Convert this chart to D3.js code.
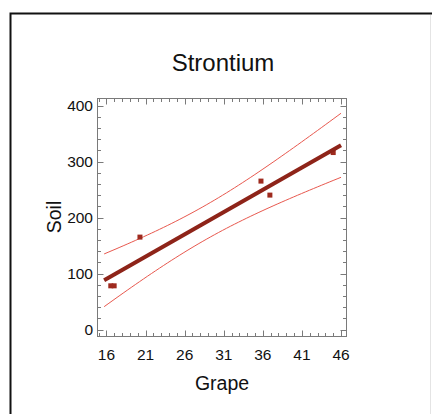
<!DOCTYPE html>
<html>
<head>
<meta charset="utf-8">
<script src="https://cdn.jsdelivr.net/npm/d3@7"></script>
<style>
  html, body { margin: 0; padding: 0; background: #fff; }
  svg { display: block; }
  text { font-family: "Liberation Sans", Arial, sans-serif; }
</style>
</head>
<body>
<svg id="chart" width="432" height="414"></svg>
<script>
// ---- data ----
const title = "Strontium";
const xLabel = "Grape";
const yLabel = "Soil";
const grape = [16.55, 16.98, 20.28, 35.76, 36.9, 45.0];
const soil  = [78, 78, 165, 265, 240, 316];
const xTicks = [16, 21, 26, 31, 36, 41, 46];
const yTicks = [0, 100, 200, 300, 400];
const fitRange = [15.7, 46.0];
const tValue = 2.776; // t(0.975, n-2 = 4)

// ---- layout ----
const svg = d3.select("#chart");
const plot = { left: 97.5, top: 98.5, right: 346.5, bottom: 336.5 };

svg.append("rect").attr("x", 10.5).attr("y", 13.5)
  .attr("width", 424).attr("height", 410)
  .attr("fill", "#fff").attr("stroke", "#111").attr("stroke-width", 2);
svg.append("line").attr("x1", 430.5).attr("x2", 430.5).attr("y1", 15).attr("y2", 414)
  .attr("stroke", "#e4e4e4").attr("stroke-width", 1);

const x = d3.scaleLinear().domain([14.85, 46.7]).range([plot.left, plot.right]);
const y = d3.scaleLinear().domain([-12.5, 412.5]).range([plot.bottom, plot.top]);

// ---- regression + confidence band ----
const n = grape.length;
const mx = d3.mean(grape), my = d3.mean(soil);
const sxx = d3.sum(grape, v => (v - mx) ** 2);
const sxy = d3.sum(grape.map((v, i) => (v - mx) * (soil[i] - my)));
const b = sxy / sxx, a = my - b * mx;
const sse = d3.sum(grape.map((v, i) => (soil[i] - (a + b * v)) ** 2));
const s = Math.sqrt(sse / (n - 2));
const band = d3.range(0, 61).map(i => {
  const xv = fitRange[0] + (fitRange[1] - fitRange[0]) * i / 60;
  const fit = a + b * xv;
  const h = tValue * s * Math.sqrt(1 / n + (xv - mx) ** 2 / sxx);
  return { x: xv, fit, lo: fit - h, hi: fit + h };
});

// ---- frame & ticks ----
const frameColor = "#7a7a7a";
const g = svg.append("g");
g.append("rect").attr("x", plot.left).attr("y", plot.top)
  .attr("width", plot.right - plot.left).attr("height", plot.bottom - plot.top)
  .attr("fill", "none").attr("stroke", frameColor).attr("stroke-width", 1);

const xMinor = d3.range(15, 47, 1);
const yMinor = d3.range(0, 401, 20);
function tickLen(isMajor) { return isMajor ? 6 : 3.5; }

xMinor.forEach(v => {
  const major = xTicks.includes(v);
  const px = Math.round(x(v)) + 0.5;
  const L = tickLen(major);
  g.append("line").attr("x1", px).attr("x2", px).attr("y1", plot.bottom).attr("y2", plot.bottom - L)
    .attr("stroke", frameColor);
  g.append("line").attr("x1", px).attr("x2", px).attr("y1", plot.top).attr("y2", plot.top + L)
    .attr("stroke", frameColor);
});
yMinor.forEach(v => {
  const major = yTicks.includes(v);
  const py = Math.round(y(v)) + 0.5;
  const L = tickLen(major);
  g.append("line").attr("x1", plot.left).attr("x2", plot.left + L).attr("y1", py).attr("y2", py)
    .attr("stroke", frameColor);
  g.append("line").attr("x1", plot.right).attr("x2", plot.right - L).attr("y1", py).attr("y2", py)
    .attr("stroke", frameColor);
});

// tick labels
g.selectAll("text.xt").data(xTicks).enter().append("text")
  .attr("x", d => x(d)).attr("y", 359.5)
  .attr("text-anchor", "middle").attr("font-size", 15.5).attr("fill", "#111")
  .text(d => d);
g.selectAll("text.yt").data(yTicks).enter().append("text")
  .attr("x", 93).attr("y", d => y(d)).attr("dy", "0.36em")
  .attr("text-anchor", "end").attr("font-size", 15.5).attr("fill", "#111")
  .text(d => d);

// titles
svg.append("text").attr("x", 223).attr("y", 71).attr("text-anchor", "middle")
  .attr("font-size", 24).attr("fill", "#111").text(title);
svg.append("text").attr("x", 222).attr("y", 390).attr("text-anchor", "middle")
  .attr("font-size", 19.5).attr("fill", "#111").text(xLabel);
svg.append("text").attr("transform", "translate(61,217) rotate(-90)")
  .attr("text-anchor", "middle").attr("font-size", 19.5).attr("fill", "#111").text(yLabel);

// ---- marks ----
const lineGen = key => d3.line().x(d => x(d.x)).y(d => y(d[key]));
svg.append("path").datum(band).attr("d", lineGen("hi"))
  .attr("fill", "none").attr("stroke", "#e8584e").attr("stroke-width", 1);
svg.append("path").datum(band).attr("d", lineGen("lo"))
  .attr("fill", "none").attr("stroke", "#e8584e").attr("stroke-width", 1);

svg.selectAll("rect.pt").data(grape).enter().append("rect")
  .attr("x", d => x(d) - 2.5).attr("y", (d, i) => y(soil[i]) - 2.5)
  .attr("width", 5).attr("height", 5).attr("fill", "#9e2a1e");

svg.append("path").datum(band).attr("d", lineGen("fit"))
  .attr("fill", "none").attr("stroke", "#8e2419").attr("stroke-width", 4);
</script>
</body>
</html>
